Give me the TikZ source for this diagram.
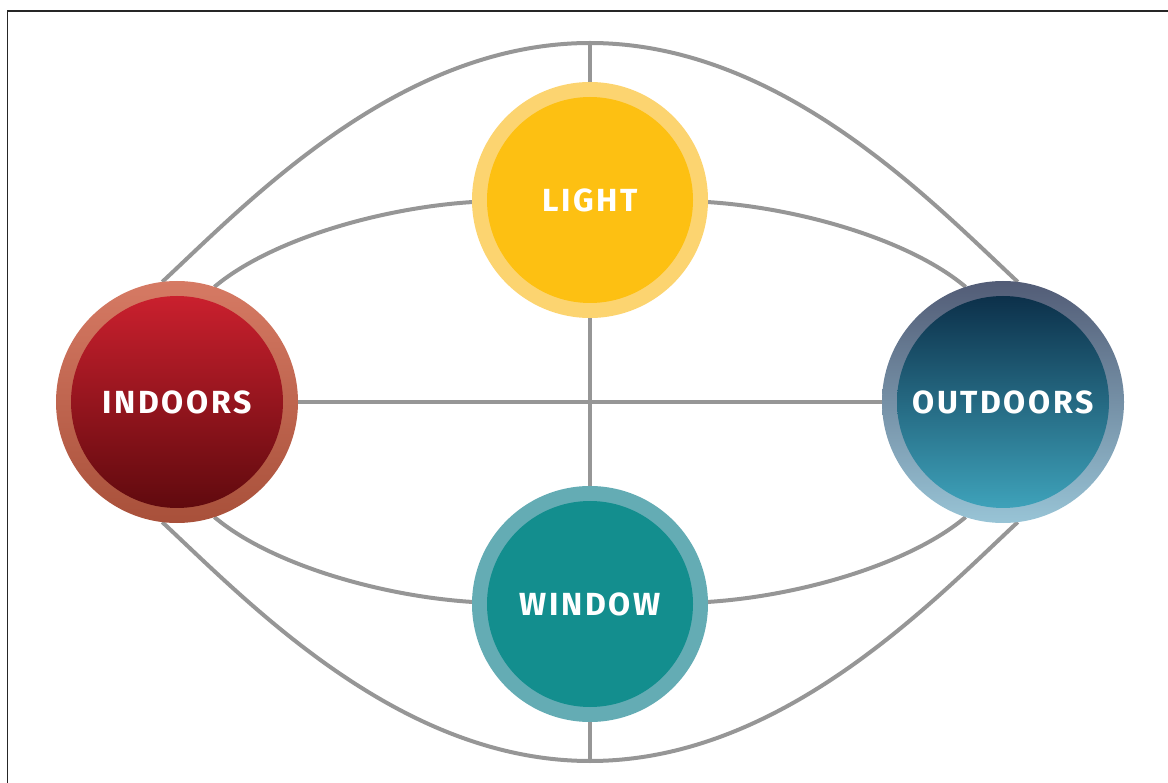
\documentclass[tikz,border=0pt]{standalone}
\usepackage{fontspec}
\newfontfamily\lblfont[LetterSpace=8]{Fira Sans}
\usetikzlibrary{backgrounds}
\definecolor{linegray}{RGB}{150,150,150}
\definecolor{lightring}{RGB}{252,212,112}
\definecolor{lightin}{RGB}{253,192,18}
\definecolor{winring}{RGB}{100,172,180}
\definecolor{winin}{RGB}{19,142,142}
\definecolor{indringT}{RGB}{214,122,100}
\definecolor{indringB}{RGB}{168,80,58}
\definecolor{indinT}{RGB}{202,32,46}
\definecolor{indinM}{RGB}{140,18,24}
\definecolor{indinB}{RGB}{96,10,14}
\definecolor{outringT}{RGB}{82,92,118}
\definecolor{outringB}{RGB}{152,196,214}
\definecolor{outinT}{RGB}{12,48,74}
\definecolor{outinB}{RGB}{62,162,186}
\begin{document}
\begin{tikzpicture}[x=1pt,y=-1pt,
  conn/.style={draw=linegray, line width=4pt},
  disc/.style={circle, inner sep=0pt, outer sep=0pt, draw=none},
  lbl/.style={text=white, font=\lblfont\bfseries\fontsize{32}{32}\selectfont},
  frameline/.style={draw=black!85, line width=1.6pt}]
\useasboundingbox (0,0) rectangle (1168,783);
\draw[frameline] (7.5,783) -- (7.5,11) -- (1168,11);

\coordinate (ttop) at (590,43);
\coordinate (bbot) at (590,761);

\node[disc, minimum size=236pt, fill=lightring] (light) at (590,200) {};
\node[disc, minimum size=206pt, fill=lightin, lbl] (lightc) at (light.center) {LIGHT};

\node[disc, minimum size=236pt, fill=winring] (window) at (590,604) {};
\node[disc, minimum size=206pt, fill=winin, lbl] (windowc) at (window.center) {WINDOW};

\node[disc, minimum size=242pt, top color=indringT, bottom color=indringB] (indoors) at (177,402) {};
\node[disc, minimum size=212pt, top color=indinT, middle color=indinM, bottom color=indinB, lbl] (indoorsc) at (indoors.center) {INDOORS};

\node[disc, minimum size=242pt, top color=outringT, bottom color=outringB] (outdoors) at (1003,402) {};
\node[disc, minimum size=212pt, top color=outinT, bottom color=outinB, lbl] (outdoorsc) at (outdoors.center) {OUTDOORS};

\begin{pgfonlayer}{background}
\draw[conn] (ttop) -- (light);
\draw[conn] (light) -- (window);
\draw[conn] (window) -- (bbot);
\draw[conn] (indoors) -- (outdoors);
\draw[conn] (ttop) .. controls (400,43) and (250,200) .. (indoors.97);
\draw[conn] (ttop) .. controls (780,43) and (930,200) .. (outdoors.83);
\draw[conn] (bbot) .. controls (400,761) and (250,604) .. (indoors.-97);
\draw[conn] (bbot) .. controls (780,761) and (930,604) .. (outdoors.-83);
\draw[conn] (light.181) .. controls (380,208) and (270,240) .. (indoors.72);
\draw[conn] (light.-1) .. controls (800,208) and (910,240) .. (outdoors.108);
\draw[conn] (window.179) .. controls (380,596) and (270,564) .. (indoors.-72);
\draw[conn] (window.1) .. controls (800,596) and (910,564) .. (outdoors.-108);
\end{pgfonlayer}
\end{tikzpicture}
\end{document}
